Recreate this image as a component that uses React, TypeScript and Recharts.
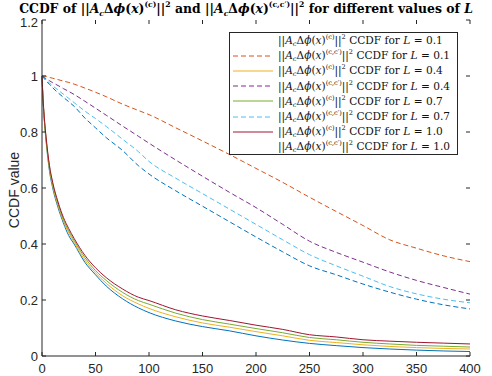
import { LineChart, Line, XAxis, YAxis } from "recharts";

// x positions (shared by every curve)
const xValues = [0, 1, 2, 4, 7, 10, 15, 20, 25, 30, 40, 50, 60, 75, 90, 100, 125, 150, 175, 200, 225, 250, 275, 300, 325, 350, 375, 400];

// ||A_c dphi(x)^(c)||^2 CCDF
const ccdfC01 = [1, 0.91, 0.85, 0.76, 0.66, 0.6, 0.53, 0.475, 0.43, 0.4, 0.335, 0.29, 0.25, 0.205, 0.172, 0.155, 0.125, 0.105, 0.09, 0.072, 0.057, 0.045, 0.037, 0.03, 0.025, 0.021, 0.018, 0.016];
const ccdfC04 = [1, 0.912, 0.852, 0.765, 0.668, 0.607, 0.537, 0.482, 0.44, 0.406, 0.343, 0.297, 0.26, 0.216, 0.186, 0.17, 0.14, 0.118, 0.103, 0.087, 0.072, 0.056, 0.048, 0.04, 0.034, 0.03, 0.027, 0.025];
const ccdfC07 = [1, 0.915, 0.855, 0.77, 0.675, 0.615, 0.543, 0.488, 0.447, 0.413, 0.352, 0.305, 0.27, 0.228, 0.198, 0.185, 0.153, 0.13, 0.114, 0.098, 0.083, 0.066, 0.058, 0.049, 0.043, 0.038, 0.035, 0.032];
const ccdfC10 = [1, 0.92, 0.86, 0.775, 0.68, 0.62, 0.55, 0.495, 0.455, 0.42, 0.36, 0.315, 0.28, 0.24, 0.21, 0.198, 0.165, 0.143, 0.127, 0.11, 0.095, 0.076, 0.068, 0.058, 0.053, 0.049, 0.046, 0.043];

// ||A_c dphi(x)^(c,c')||^2 CCDF
const ccdfCC01 = [1, 1, 1, 0.999, 0.995, 0.992, 0.987, 0.982, 0.977, 0.971, 0.957, 0.942, 0.926, 0.9, 0.877, 0.862, 0.815, 0.768, 0.72, 0.67, 0.62, 0.567, 0.516, 0.466, 0.415, 0.385, 0.358, 0.337];
const ccdfCC04 = [1, 0.998, 0.995, 0.99, 0.983, 0.976, 0.966, 0.955, 0.945, 0.934, 0.91, 0.885, 0.86, 0.822, 0.785, 0.76, 0.7, 0.642, 0.585, 0.53, 0.47, 0.41, 0.37, 0.335, 0.3, 0.27, 0.245, 0.221];
const ccdfCC07 = [1, 0.997, 0.993, 0.985, 0.975, 0.965, 0.95, 0.935, 0.92, 0.905, 0.875, 0.848, 0.82, 0.775, 0.73, 0.695, 0.635, 0.58, 0.525, 0.47, 0.415, 0.362, 0.322, 0.285, 0.248, 0.222, 0.203, 0.19];
const ccdfCC10 = [1, 0.996, 0.991, 0.982, 0.97, 0.958, 0.94, 0.924, 0.908, 0.892, 0.85, 0.815, 0.78, 0.735, 0.68, 0.65, 0.59, 0.535, 0.48, 0.425, 0.372, 0.322, 0.29, 0.257, 0.228, 0.203, 0.183, 0.168];

const xTicks = [0, 50, 100, 150, 200, 250, 300, 350, 400];
const yTicks = [0, 0.2, 0.4, 0.6, 0.8, 1, 1.2];

const series = [
  { key: "c01", sup: "(c)", L: "0.1", color: "#0072BD", dashed: false, values: ccdfC01, sample: false },
  { key: "cc01", sup: "(c,c′)", L: "0.1", color: "#D95319", dashed: true, values: ccdfCC01, sample: true },
  { key: "c04", sup: "(c)", L: "0.4", color: "#EDB120", dashed: false, values: ccdfC04, sample: true },
  { key: "cc04", sup: "(c,c′)", L: "0.4", color: "#7E2F8E", dashed: true, values: ccdfCC04, sample: true },
  { key: "c07", sup: "(c)", L: "0.7", color: "#77AC30", dashed: false, values: ccdfC07, sample: true },
  { key: "cc07", sup: "(c,c′)", L: "0.7", color: "#4DBEEE", dashed: true, values: ccdfCC07, sample: true },
  { key: "c10", sup: "(c)", L: "1.0", color: "#A2142F", dashed: false, values: ccdfC10, sample: true },
  { key: "cc10", sup: "(c,c′)", L: "1.0", color: "#0072BD", dashed: true, values: ccdfCC10, sample: false },
];

const rows = xValues.map((x, i) => {
  const row: Record<string, number> = { x };
  series.forEach((s) => (row[s.key] = s.values[i]));
  return row;
});

const PLOT = { left: 42, right: 470, top: 20, bottom: 356 };
const AX = "#262626";
const SANS = "'Liberation Sans', Arial, sans-serif";
const SERIF = "'DejaVu Serif', serif";

function XTick({ x, y, payload }: any) {
  return (
    <g>
      <line x1={x} x2={x} y1={PLOT.bottom} y2={PLOT.bottom - 4} stroke={AX} />
      <line x1={x} x2={x} y1={PLOT.top} y2={PLOT.top + 4} stroke={AX} />
      <text x={x} y={y} dy={11} textAnchor="middle" fontSize={13} fill={AX} fontFamily={SANS}>
        {payload.value}
      </text>
    </g>
  );
}

function YTick({ x, y, payload }: any) {
  return (
    <g>
      <line x1={PLOT.left} x2={PLOT.left + 4} y1={y} y2={y} stroke={AX} />
      <line x1={PLOT.right} x2={PLOT.right - 4} y1={y} y2={y} stroke={AX} />
      <text x={x} y={y} dy={payload.value === 1.2 ? 7 : 4.5} textAnchor="end" fontSize={13} fill={AX} fontFamily={SANS}>
        {payload.value}
      </text>
    </g>
  );
}

const supStyle = { fontSize: "0.62em", lineHeight: 0, verticalAlign: "0.75em" };
const subStyle = { fontSize: "0.62em", lineHeight: 0, verticalAlign: "-0.35em" };

function Expr({ sup }: { sup: string }) {
  return (
    <span>
      ||<i>A</i>
      <span style={subStyle}>
        <i>c</i>
      </span>
      Δ<i>ϕ</i>(<i>x</i>)
      <span style={supStyle}>{sup}</span>||<span style={supStyle}>2</span>
    </span>
  );
}

function LegendBox() {
  return (
    <div
      style={{
        position: "absolute",
        left: 229,
        top: 32,
        width: 229,
        height: 123,
        boxSizing: "border-box",
        border: "1px solid #262626",
        background: "#fff",
        fontFamily: SERIF,
        fontSize: 10.6,
        color: "#111",
      }}
    >
      {series.map((s) => (
        <div key={s.key} style={{ display: "flex", alignItems: "center", height: 15.2, lineHeight: "15px" }}>
          <svg width={46} height={10} style={{ flex: "none" }}>
            {s.sample && (
              <line
                x1={3}
                x2={43}
                y1={5}
                y2={5}
                stroke={s.color}
                strokeWidth={1}
                strokeDasharray={s.dashed ? "5 3" : undefined}
              />
            )}
          </svg>
          <span style={{ whiteSpace: "nowrap", marginLeft: 2 }}>
            <Expr sup={s.sup} /> CCDF for <i>L</i> = {s.L}
          </span>
        </div>
      ))}
    </div>
  );
}

export default function App() {
  return (
    <div style={{ position: "absolute", left: 0, top: 0, width: 492, height: 376, background: "#fff" }}>
      <LineChart width={492} height={376} data={rows} margin={{ top: 20, right: 22, bottom: 0, left: 0 }}>
        <XAxis
          dataKey="x"
          type="number"
          domain={[0, 400]}
          ticks={xTicks}
          height={20}
          tickSize={0}
          tickMargin={6}
          tickLine={false}
          tick={<XTick />}
          axisLine={{ stroke: AX }}
        />
        <XAxis xAxisId="top" orientation="top" dataKey="x" type="number" domain={[0, 400]} height={0} tick={false} tickLine={false} axisLine={{ stroke: AX }} />
        <YAxis
          type="number"
          domain={[0, 1.2]}
          ticks={yTicks}
          width={42}
          tickSize={0}
          tickMargin={4}
          tickLine={false}
          tick={<YTick />}
          axisLine={{ stroke: AX }}
        />
        <YAxis yAxisId="right" orientation="right" type="number" domain={[0, 1.2]} width={0} tick={false} tickLine={false} axisLine={{ stroke: AX }} />
        {series.map((s) => (
          <Line
            key={s.key}
            dataKey={s.key}
            type="monotone"
            stroke={s.color}
            strokeWidth={1}
            strokeDasharray={s.dashed ? "5 3" : undefined}
            dot={false}
            isAnimationActive={false}
          />
        ))}
      </LineChart>
      <div
        style={{
          position: "absolute",
          top: 1.5,
          left: 0,
          width: 492,
          textAlign: "center",
          whiteSpace: "nowrap",
          fontFamily: SERIF,
          fontWeight: "bold",
          fontSize: 12.4,
          lineHeight: "14px",
        }}
      >
        CCDF of <Expr sup="(c)" /> and <Expr sup="(c,c′)" /> for different values of <i>L</i>
      </div>
      <div
        style={{
          position: "absolute",
          left: 14,
          top: 190,
          transform: "translate(-50%, -50%) rotate(-90deg)",
          whiteSpace: "nowrap",
          fontFamily: SANS,
          fontSize: 14,
          color: AX,
        }}
      >
        CCDF value
      </div>
      <LegendBox />
    </div>
  );
}
